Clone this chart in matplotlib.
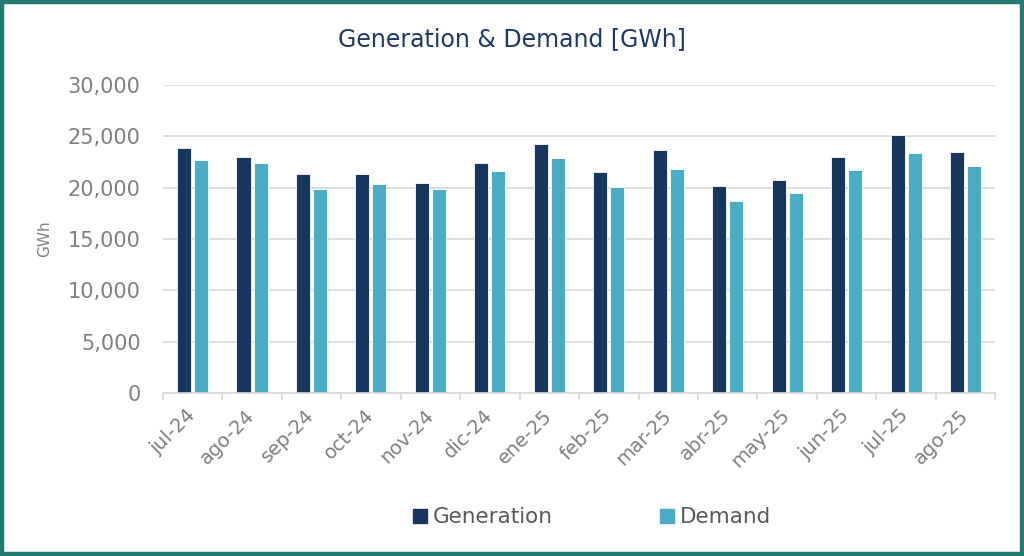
import matplotlib
matplotlib.use("Agg")
import matplotlib.pyplot as plt
import numpy as np
from matplotlib.patches import Rectangle
from matplotlib.lines import Line2D

plt.rcParams['font.family'] = ['DejaVu Sans']

# data
months = ["jul-24", "ago-24", "sep-24", "oct-24", "nov-24", "dic-24", "ene-25",
          "feb-25", "mar-25", "abr-25", "may-25", "jun-25", "jul-25", "ago-25"]
generation = [23850, 23030, 21290, 21350, 20420, 22420, 24290,
              21550, 23680, 20190, 20740, 22970, 25100, 23480]
demand = [22710, 22390, 19900, 20320, 19900, 21610, 22870,
          20100, 21840, 18680, 19450, 21680, 23350, 22100]

gen_color = "#17365D"
dem_color = "#4BACC6"
gray = "#808080"

fig = plt.figure(figsize=(10.24, 5.56), dpi=100)
ax = fig.add_axes([0.159, 0.293, 0.813, 0.554])

x = np.arange(len(months))
w = 0.236
off = 0.143
ax.bar(x - off, generation, w, color=gen_color, edgecolor="white", linewidth=0.6)
ax.bar(x + off, demand, w, color=dem_color, edgecolor="white", linewidth=0.6)

ax.set_xlim(-0.5, len(months) - 0.5)
ax.set_ylim(0, 30000)
ax.set_yticks(np.arange(0, 30001, 5000))
ax.yaxis.set_major_formatter(matplotlib.ticker.FuncFormatter(lambda v, p: f"{int(v):,}"))
ax.grid(axis="y", color="#D9D9D9", linewidth=1.2)
ax.set_axisbelow(True)

for s in ["top", "right", "left"]:
    ax.spines[s].set_visible(False)
ax.spines["bottom"].set_color("#D9D9D9")
ax.spines["bottom"].set_linewidth(1.2)

ax.set_xticks(x)
ax.set_xticklabels(months, rotation=45, ha="right", va="center", rotation_mode="anchor")
ax.set_xticks(np.arange(-0.5, len(months), 1), minor=True)
ax.tick_params(axis="x", which="major", length=0, pad=14, labelsize=14, labelcolor=gray)
ax.tick_params(axis="x", which="minor", length=5, color="#D9D9D9", width=1.2)
ax.tick_params(axis="y", length=0, pad=16, labelsize=15, labelcolor=gray)

ax.set_ylabel("GWh", fontsize=11, color=gray, labelpad=11)

fig.text(0.5, 0.93, "Generation & Demand [GWh]", ha="center", va="center",
         fontsize=17, color="#1F3864")

handles = [Line2D([], [], marker="s", linestyle="none", markersize=10,
                  markerfacecolor=gen_color, markeredgecolor=gen_color),
           Line2D([], [], marker="s", linestyle="none", markersize=10,
                  markerfacecolor=dem_color, markeredgecolor=dem_color)]
fig.legend(handles, ["Generation", "Demand"], loc="center", bbox_to_anchor=(0.576, 0.07),
           ncol=2, frameon=False, fontsize=15.5, labelcolor="#595959",
           handletextpad=0.1, columnspacing=4.8, handlelength=1.0)

fig.patches.append(Rectangle((0.002, 0.0036), 0.996, 0.9928, transform=fig.transFigure,
                             fill=False, edgecolor="#21796F", linewidth=3.2))

fig.savefig("out.png", dpi=100)
